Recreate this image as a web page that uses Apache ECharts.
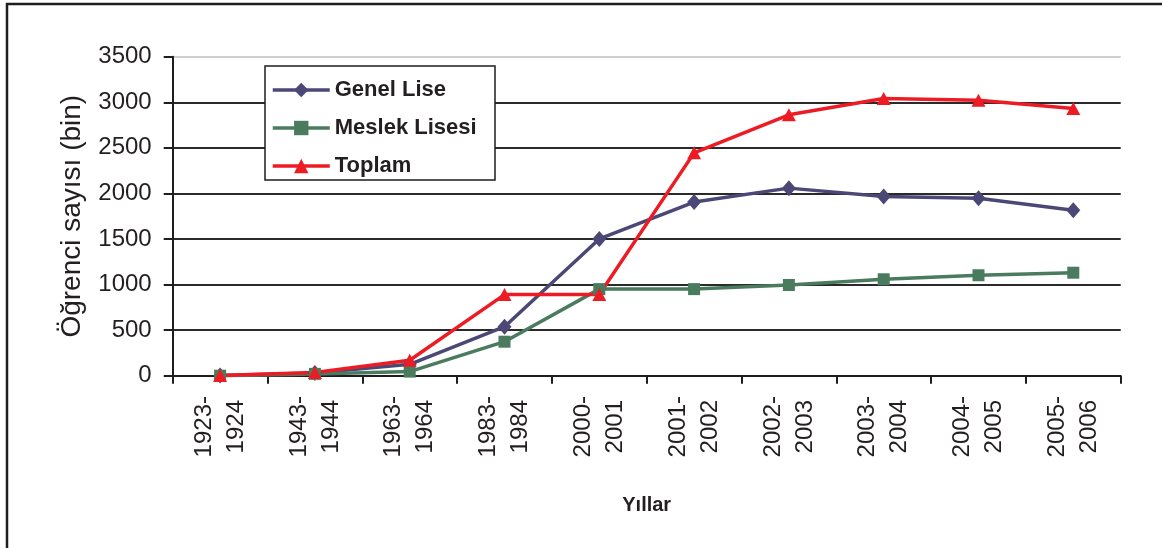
<!DOCTYPE html>
<html>
<head>
<meta charset="utf-8">
<script src="https://cdn.jsdelivr.net/npm/echarts@6/dist/echarts.min.js"></script>
<style>
  html, body { margin: 0; padding: 0; background: #fff; }
  #chart { width: 1162px; height: 548px; }
</style>
</head>
<body>
<div id="chart"></div>
<script>
// categories (school years)
const years = ['1923-1924', '1943-1944', '1963-1964', '1983-1984', '2000-2001',
  '2001-2002', '2002-2003', '2003-2004', '2004-2005', '2005-2006']

// student counts, thousands
const genelLise = [1, 30, 125, 538, 1500, 1905, 2058, 1966, 1948, 1815]
const meslekLisesi = [0, 20, 45, 373, 950, 950, 995, 1058, 1102, 1130]
const toplam = [1, 35, 170, 890, 890, 2445, 2862, 3042, 3022, 2932]

// y axis ticks
const yMin = 0
const yMax = 3500
const yStep = 500

const font = 'Liberation Sans, Arial, sans-serif'
const chart = echarts.init(document.getElementById('chart'))

const option = {
  animation: false,
  backgroundColor: '#fff',
  grid: {
    left: 172.7,
    right: 41.3,
    top: 56.7,
    bottom: 172.3
  },
  graphic: [
    // outer frame
    {
      type: 'rect',
      z: 0,
      shape: { x: 7, y: 4, width: 1300, height: 700 },
      style: { fill: null, stroke: '#1e1e1e', lineWidth: 2.5 }
    },
    // legend box
    {
      type: 'rect',
      z: 3,
      shape: { x: 265, y: 66, width: 230, height: 114 },
      style: { fill: '#fff', stroke: '#1e1e1e', lineWidth: 1.5 }
    }
  ],
  legend: {
    orient: 'vertical',
    left: 265,
    top: 68,
    z: 5,
    padding: [11, 7, 6, 6],
    itemWidth: 57,
    itemHeight: 18,
    itemGap: 16,
    lineStyle: { width: 3.5 },
    textStyle: {
      fontFamily: font,
      fontSize: 22,
      fontWeight: 'bold',
      color: '#231f20'
    },
    data: ['Genel Lise', 'Meslek Lisesi', 'Toplam']
  },
  xAxis: {
    type: 'category',
    data: years,
    boundaryGap: true,
    name: 'Yıllar',
    nameLocation: 'middle',
    nameGap: 120,
    nameTextStyle: {
      fontFamily: font,
      fontSize: 20,
      fontWeight: 'bold',
      color: '#231f20',
      verticalAlign: 'top'
    },
    axisLine: { show: true, lineStyle: { color: '#1e1e1e', width: 2 } },
    axisTick: { show: true, interval: 0, length: 8, lineStyle: { color: '#1e1e1e', width: 2 } },
    axisLabel: {
      interval: 0,
      rotate: 90,
      align: 'center',
      verticalAlign: 'middle',
      margin: 51,
      fontFamily: font,
      fontSize: 24,
      lineHeight: 32,
      color: '#231f20',
      formatter: (v) => v.replace('-', '-\n')
    },
    splitLine: { show: false }
  },
  yAxis: {
    type: 'value',
    min: yMin,
    max: yMax,
    interval: yStep,
    name: 'Öğrenci sayısı (bin)',
    nameLocation: 'middle',
    nameGap: 86,
    nameTextStyle: {
      fontFamily: font,
      fontSize: 28,
      color: '#231f20'
    },
    axisLine: { show: true, lineStyle: { color: '#1e1e1e', width: 2 } },
    axisTick: { show: true, length: 9, lineStyle: { color: '#1e1e1e', width: 2 } },
    axisLabel: {
      margin: 21,
      fontFamily: font,
      fontSize: 24,
      color: '#231f20',
      formatter: (v) => String(v)
    },
    splitLine: {
      show: true,
      lineStyle: {
        color: ['#1e1e1e', '#2a2a2a', '#2a2a2a', '#2a2a2a', '#2a2a2a', '#2a2a2a', '#2a2a2a', '#cfcfcf'],
        width: 2
      }
    }
  },
  series: [
    {
      name: 'Genel Lise',
      type: 'line',
      data: genelLise,
      z: 2,
      symbol: 'diamond',
      symbolSize: [14, 16],
      color: '#4b4876',
      lineStyle: { width: 3.5, color: '#4b4876' },
      itemStyle: { color: '#4b4876' }
    },
    {
      name: 'Meslek Lisesi',
      type: 'line',
      data: meslekLisesi,
      z: 2,
      symbol: 'rect',
      symbolSize: 12,
      color: '#4a7b5e',
      lineStyle: { width: 3.5, color: '#4a7b5e' },
      itemStyle: { color: '#4a7b5e' }
    },
    {
      name: 'Toplam',
      type: 'line',
      data: toplam,
      z: 2,
      symbol: 'triangle',
      symbolSize: [14, 13],
      color: '#ed1c24',
      lineStyle: { width: 3.5, color: '#ed1c24' },
      itemStyle: { color: '#ed1c24' }
    }
  ]
}

chart.setOption(option)
</script>
</body>
</html>
